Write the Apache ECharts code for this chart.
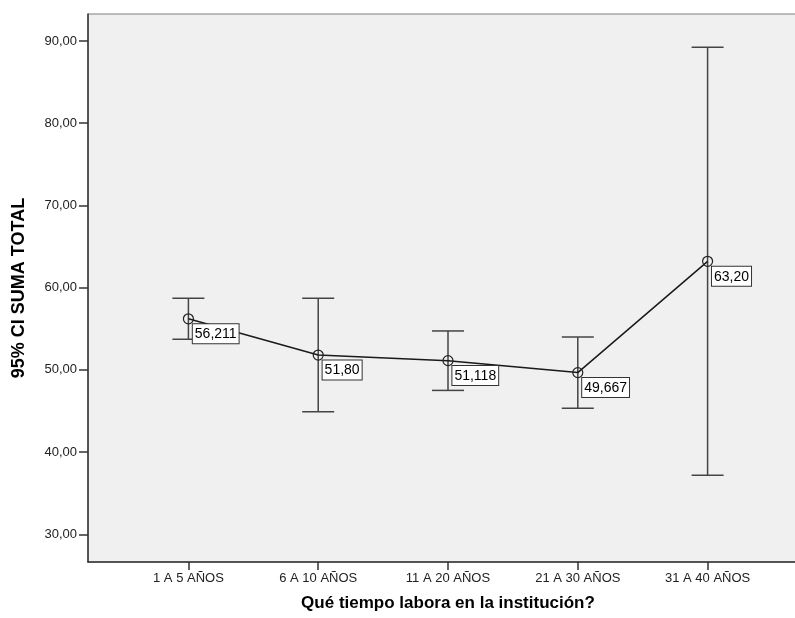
<!DOCTYPE html>
<html>
<head>
<meta charset="utf-8">
<script src="https://cdn.jsdelivr.net/npm/echarts@6/dist/echarts.min.js"></script>
<style>
  html, body { margin: 0; padding: 0; background: #fff; }
  #chart { width: 795px; height: 618px; }
</style>
</head>
<body>
<div id="chart"></div>
<script>
// ---- data ----
var categories = ['1 A 5 AÑOS', '6 A 10 AÑOS', '11 A 20 AÑOS', '21 A 30 AÑOS', '31 A 40 AÑOS'];
var means = [56.211, 51.80, 51.118, 49.667, 63.20];
var meanLabels = ['56,211', '51,80', '51,118', '49,667', '63,20'];
var ciLower = [53.71, 44.89, 47.50, 45.33, 37.17];
var ciUpper = [58.71, 58.71, 54.73, 54.00, 89.23];
var yTicks = [30, 40, 50, 60, 70, 80, 90];
var yTickLabels = ['30,00', '40,00', '50,00', '60,00', '70,00', '80,00', '90,00'];
var xTitle = 'Qué tiempo labora en la institución?';
var yTitle = '95% CI SUMA TOTAL';

// ---- build ----
var xPos = categories.map(function (c, i) { return i + 1; });
var lineData = xPos.map(function (x, i) { return [x, means[i]]; });
var errData = xPos.map(function (x, i) { return [x, ciLower[i], ciUpper[i]]; });

var font = "'Liberation Sans', Arial, sans-serif";
var chart = echarts.init(document.getElementById('chart'));

chart.setOption({
  animation: false,
  backgroundColor: '#ffffff',
  grid: {
    left: 88, top: 14, right: -13, bottom: 56,
    show: true,
    backgroundColor: '#f0f0f0',
    borderColor: '#7f7f7f',
    borderWidth: 1,
    containLabel: false,
    outerBoundsMode: 'none'
  },
  xAxis: {
    type: 'value',
    min: 0.2264,
    max: 5.7736,
    splitLine: { show: false },
    axisLine: { show: true, onZero: false, lineStyle: { color: '#333', width: 1.5 } },
    axisTick: { show: true, length: 8, customValues: xPos, lineStyle: { color: '#333', width: 1.5 } },
    axisLabel: {
      customValues: xPos,
      margin: 10,
      fontSize: 13,
      fontFamily: font,
      color: '#222',
      formatter: function (v) { return categories[Math.round(v) - 1] || ''; }
    },
    name: xTitle,
    nameLocation: 'middle',
    nameGap: 33,
    nameTextStyle: { fontSize: 17, fontWeight: 'bold', fontFamily: font, color: '#000' }
  },
  yAxis: {
    type: 'value',
    min: 26.63,
    max: 93.28,
    splitLine: { show: false },
    axisLine: { show: true, onZero: false, lineStyle: { color: '#333', width: 1.5 } },
    axisTick: { show: true, length: 9, customValues: yTicks, lineStyle: { color: '#333', width: 1.5 } },
    axisLabel: {
      customValues: yTicks,
      margin: 11,
      fontSize: 13,
      fontFamily: font,
      color: '#222',
      formatter: function (v) {
        var i = yTicks.indexOf(Math.round(v));
        return i >= 0 ? yTickLabels[i] : '';
      }
    },
    name: yTitle,
    nameLocation: 'middle',
    nameGap: 60,
    nameRotate: 90,
    nameTextStyle: { fontSize: 18, fontWeight: 'bold', fontFamily: font, color: '#000' }
  },
  series: [
    {
      type: 'custom',
      z: 2,
      data: errData,
      renderItem: function (params, api) {
        var x = api.value(0);
        var lo = api.coord([x, api.value(1)]);
        var hi = api.coord([x, api.value(2)]);
        var hw = 16;
        var st = { stroke: '#444', lineWidth: 1.5, fill: null };
        return {
          type: 'group',
          children: [
            { type: 'line', shape: { x1: lo[0], y1: lo[1], x2: hi[0], y2: hi[1] }, style: st },
            { type: 'line', shape: { x1: hi[0] - hw, y1: hi[1], x2: hi[0] + hw, y2: hi[1] }, style: st },
            { type: 'line', shape: { x1: lo[0] - hw, y1: lo[1], x2: lo[0] + hw, y2: lo[1] }, style: st }
          ]
        };
      }
    },
    {
      type: 'line',
      z: 3,
      data: lineData,
      symbol: 'circle',
      symbolSize: 10,
      lineStyle: { color: '#1a1a1a', width: 1.5 },
      itemStyle: { color: 'rgba(0,0,0,0)', borderColor: '#222', borderWidth: 1.2 },
      label: {
        show: true,
        position: [10, 11],
        align: 'left',
        verticalAlign: 'top',
        fontSize: 14,
        fontFamily: font,
        color: '#000',
        backgroundColor: '#ffffff',
        borderColor: '#333',
        borderWidth: 1,
        padding: [3, 2, 2, 2],
        formatter: function (p) { return meanLabels[p.dataIndex]; }
      }
    }
  ]
});
</script>
</body>
</html>
